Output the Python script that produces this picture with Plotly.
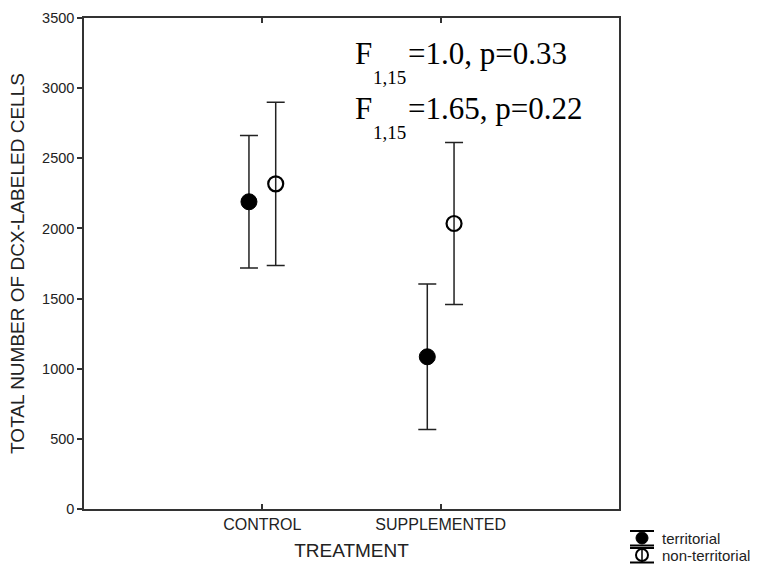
import plotly.graph_objects as go

categories = ["CONTROL", "SUPPLEMENTED"]
cat_pos = [1, 2]
offset = 0.075

territorial_mean = [2190, 1085]
territorial_err = [472, 518]
nonterritorial_mean = [2318, 2035]
nonterritorial_err = [582, 578]

y_ticks = [0, 500, 1000, 1500, 2000, 2500, 3000, 3500]
legend_names = ["territorial", "non-territorial"]

W, H = 760, 565
L, R, T, B = 84, 619, 18, 509

def px(x):
    return (x - L) / (R - L)

def py(y):
    return (B - y) / (B - T)

fig = go.Figure()
fig.add_trace(go.Scatter(
    x=[p - offset for p in cat_pos], y=territorial_mean, mode="markers",
    name=legend_names[0],
    marker=dict(symbol="circle", size=16, color="black", line=dict(color="black", width=1)),
    error_y=dict(type="data", array=territorial_err, visible=True, color="#222", thickness=1.5, width=9),
))
fig.add_trace(go.Scatter(
    x=[p + offset for p in cat_pos], y=nonterritorial_mean, mode="markers",
    name=legend_names[1],
    marker=dict(symbol="circle-open", size=15, color="black", line=dict(color="black", width=2.2)),
    error_y=dict(type="data", array=nonterritorial_err, visible=True, color="#222", thickness=1.5, width=9),
))

serif = "Liberation Serif, Times New Roman, serif"
sans = "Liberation Sans, Arial, sans-serif"
ann = []
lines = [("=1.0, p=0.33", 63, 83), ("=1.65, p=0.22", 119, 138)]
for txt, base, subbase in lines:
    ann.append(dict(text="F", x=px(353), y=py(base - 10), xref="paper", yref="paper",
                    xanchor="left", yanchor="middle", showarrow=False,
                    font=dict(family=serif, size=31, color="black")))
    ann.append(dict(text="1,15", x=px(371), y=py(subbase - 6), xref="paper", yref="paper",
                    xanchor="left", yanchor="middle", showarrow=False,
                    font=dict(family=serif, size=19, color="black")))
    ann.append(dict(text=txt, x=px(406), y=py(base - 10), xref="paper", yref="paper",
                    xanchor="left", yanchor="middle", showarrow=False,
                    font=dict(family=serif, size=31, color="black")))

# custom legend (icon = marker with error-bar caps)
shapes = []
leg_rows = [538, 555]
for i, (name, cy) in enumerate(zip(legend_names, leg_rows)):
    ann.append(dict(text=name, x=px(660), y=py(cy), xref="paper", yref="paper",
                    xanchor="left", yanchor="middle", showarrow=False,
                    font=dict(family=sans, size=15, color="#222")))
    for yy in (cy - 7, cy + 7.5):
        shapes.append(dict(type="line", xref="paper", yref="paper",
                           x0=px(630), x1=px(654), y0=py(yy), y1=py(yy),
                           line=dict(color="black", width=2)))
    if i == 0:
        shapes.append(dict(type="circle", xref="paper", yref="paper",
                           x0=px(636), x1=px(648), y0=py(cy + 6), y1=py(cy - 6),
                           fillcolor="black", line=dict(color="black", width=1)))
    else:
        shapes.append(dict(type="circle", xref="paper", yref="paper",
                           x0=px(636), x1=px(648), y0=py(cy + 6), y1=py(cy - 6),
                           fillcolor="white", line=dict(color="black", width=2)))
        shapes.append(dict(type="line", xref="paper", yref="paper",
                           x0=px(642), x1=px(642), y0=py(cy - 7), y1=py(cy + 7.5),
                           line=dict(color="black", width=1.5)))

fig.update_layout(
    width=W, height=H,
    margin=dict(l=L, r=W - R, t=T, b=H - B, autoexpand=False),
    paper_bgcolor="white", plot_bgcolor="white",
    font=dict(family=sans, color="#222"),
    showlegend=False,
    annotations=ann,
    shapes=shapes,
)
fig.update_xaxes(
    range=[0, 3], tickmode="array", tickvals=cat_pos, ticktext=categories,
    showgrid=False, zeroline=False, showline=True, linecolor="#333", linewidth=1.5,
    mirror="ticks", ticks="inside", ticklen=5, tickcolor="#333", tickwidth=1.5,
    tickfont=dict(size=16, family=sans, color="#222"), automargin=False,
    title=dict(text="TREATMENT", font=dict(size=19, family=sans, color="#222"), standoff=12),
)
fig.update_yaxes(
    range=[0, 3500], tickmode="array", tickvals=y_ticks,
    showgrid=False, zeroline=False, showline=True, linecolor="#333", linewidth=1.5,
    mirror=True, ticks="outside", ticklen=5, tickcolor="#333", tickwidth=1.5,
    tickfont=dict(size=14.5, family=sans, color="#222"), automargin=False,
    title=dict(text="TOTAL NUMBER OF DCX-LABELED CELLS", font=dict(size=19, family=sans, color="#222"), standoff=12),
)
fig.write_html("out.html")
